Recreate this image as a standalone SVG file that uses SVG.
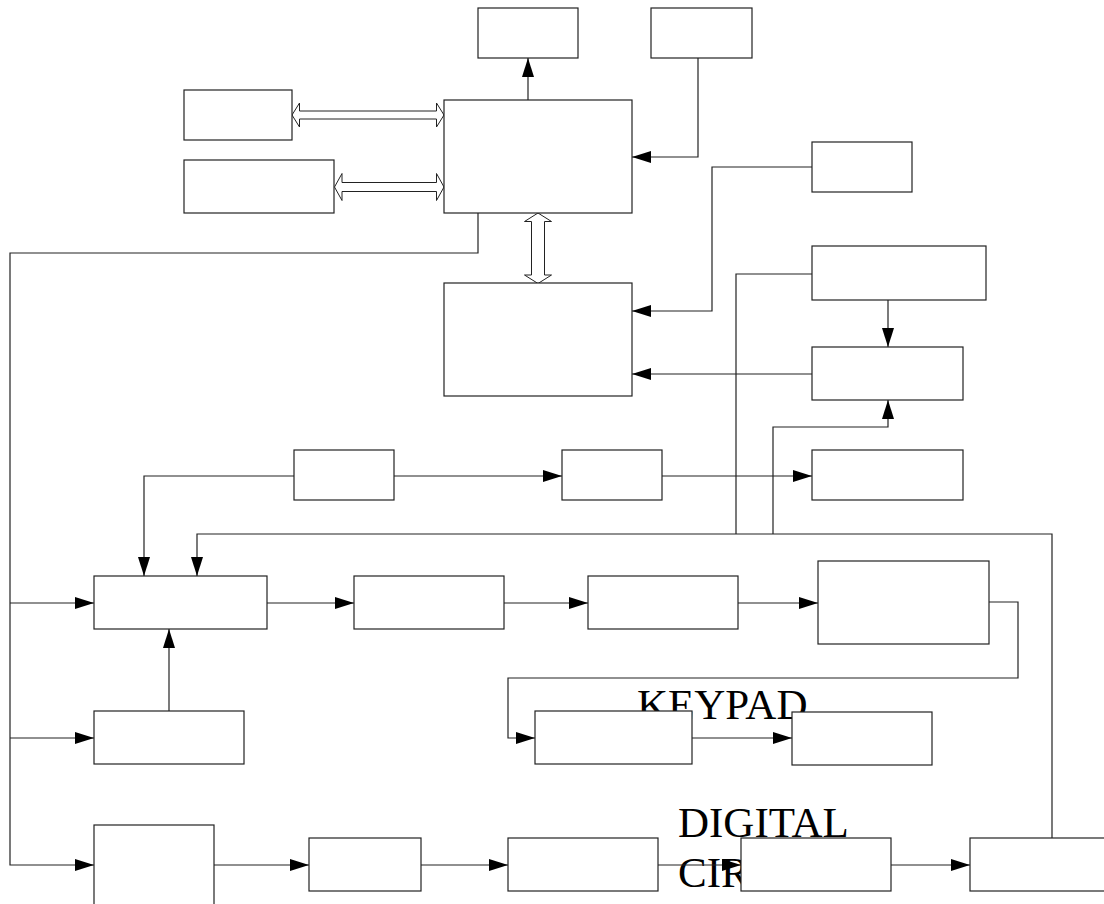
<svg xmlns="http://www.w3.org/2000/svg" width="1104" height="904" viewBox="0 0 1104 904">
<style>
.box{fill:#fff;stroke:#222;stroke-width:1.2}
.ln{fill:none;stroke:#222;stroke-width:1.2}
.ar{fill:none;stroke:#222;stroke-width:1.2;marker-end:url(#ah)}
.dbl{fill:#fff;stroke:#222;stroke-width:1}
.lbl{font-family:"Liberation Serif","Times New Roman",serif;font-size:43px;fill:#000}
</style>
<defs>
<marker id="ah" markerUnits="userSpaceOnUse" markerWidth="19" markerHeight="12" refX="19" refY="6" orient="auto">
<path d="M0,0 L19,6 L0,12 z" fill="#000"/>
</marker>
</defs>
<rect width="1104" height="904" fill="#fff"/>
<g id="labels">
<text class="lbl" x="637" y="718.5">KEYPAD</text>
<text class="lbl" x="678" y="836.5">DIGITAL</text>
<text class="lbl" x="678" y="886.5">CIR</text>
</g>
<g id="connectors">
<path class="ar" d="M528,100 V58"/>
<path class="ar" d="M698,58 V157 H632"/>
<path class="ar" d="M812,167 H712 V311 H632"/>
<path class="ar" d="M812,374 H632"/>
<path class="ar" d="M888,300 V347"/>
<path class="ar" d="M773,534 V427 H888 V400"/>
<path class="ln" d="M812,274 H736 V534"/>
<path class="ar" d="M1052,838 V534 H197 V576"/>
<path class="ar" d="M294,476 H144 V576"/>
<path class="ar" d="M394,476 H562"/>
<path class="ar" d="M662,476 H812"/>
<path class="ar" d="M478,213 V253 H10 V865 H94"/>
<path class="ar" d="M10,603 H94"/>
<path class="ar" d="M10,738 H94"/>
<path class="ar" d="M169,711 V629"/>
<path class="ar" d="M267,603 H354"/>
<path class="ar" d="M504,603 H588"/>
<path class="ar" d="M738,603 H818"/>
<path class="ar" d="M989,602 H1018 V678 H508 V738 H535"/>
<path class="ar" d="M692,738 H792"/>
<path class="ar" d="M214,865 H309"/>
<path class="ar" d="M421,865 H508"/>
<path class="ar" d="M658,865 H741"/>
<path class="ar" d="M891,865 H970"/>
<polygon class="dbl" points="292,115 299.5,103 299.5,111 436.5,111 436.5,103 444,115 436.5,127 436.5,119 299.5,119 299.5,127"/>
<polygon class="dbl" points="334.5,187 342,173.5 342,182.5 436.5,182.5 436.5,173.5 444,187 436.5,200.5 436.5,191.5 342,191.5 342,200.5"/>
<polygon class="dbl" points="538,213 551.5,221.5 544.5,221.5 544.5,275 551.5,275 538,283.5 524.5,275 531.5,275 531.5,221.5 524.5,221.5"/>
</g>
<g id="nA"><rect class="box" x="478" y="8" width="100" height="50"/></g>
<g id="nB"><rect class="box" x="651" y="8" width="101" height="50"/></g>
<g id="nC"><rect class="box" x="184" y="90" width="108" height="50"/></g>
<g id="nD"><rect class="box" x="184" y="160" width="150" height="53"/></g>
<g id="nE"><rect class="box" x="444" y="100" width="188" height="113"/></g>
<g id="nF"><rect class="box" x="444" y="283" width="188" height="113"/></g>
<g id="nG"><rect class="box" x="812" y="142" width="100" height="50"/></g>
<g id="nH"><rect class="box" x="812" y="246" width="174" height="54"/></g>
<g id="nI"><rect class="box" x="812" y="347" width="151" height="53"/></g>
<g id="nJ"><rect class="box" x="812" y="450" width="151" height="50"/></g>
<g id="nK"><rect class="box" x="294" y="450" width="100" height="50"/></g>
<g id="nL"><rect class="box" x="562" y="450" width="100" height="50"/></g>
<g id="nM"><rect class="box" x="94" y="576" width="173" height="53"/></g>
<g id="nN"><rect class="box" x="354" y="576" width="150" height="53"/></g>
<g id="nP"><rect class="box" x="588" y="576" width="150" height="53"/></g>
<g id="nQ"><rect class="box" x="818" y="561" width="171" height="83"/></g>
<g id="nO"><rect class="box" x="94" y="711" width="150" height="53"/></g>
<g id="nR"><rect class="box" x="535" y="711" width="157" height="53"/></g>
<g id="nS"><rect class="box" x="792" y="712" width="140" height="53"/></g>
<g id="nV"><rect class="box" x="94" y="825" width="120" height="90"/></g>
<g id="nW"><rect class="box" x="309" y="838" width="112" height="53"/></g>
<g id="nT"><rect class="box" x="508" y="838" width="150" height="53"/></g>
<g id="nU"><rect class="box" x="741" y="838" width="150" height="53"/></g>
<g id="nX"><rect class="box" x="970" y="838" width="140" height="53"/></g>
</svg>
